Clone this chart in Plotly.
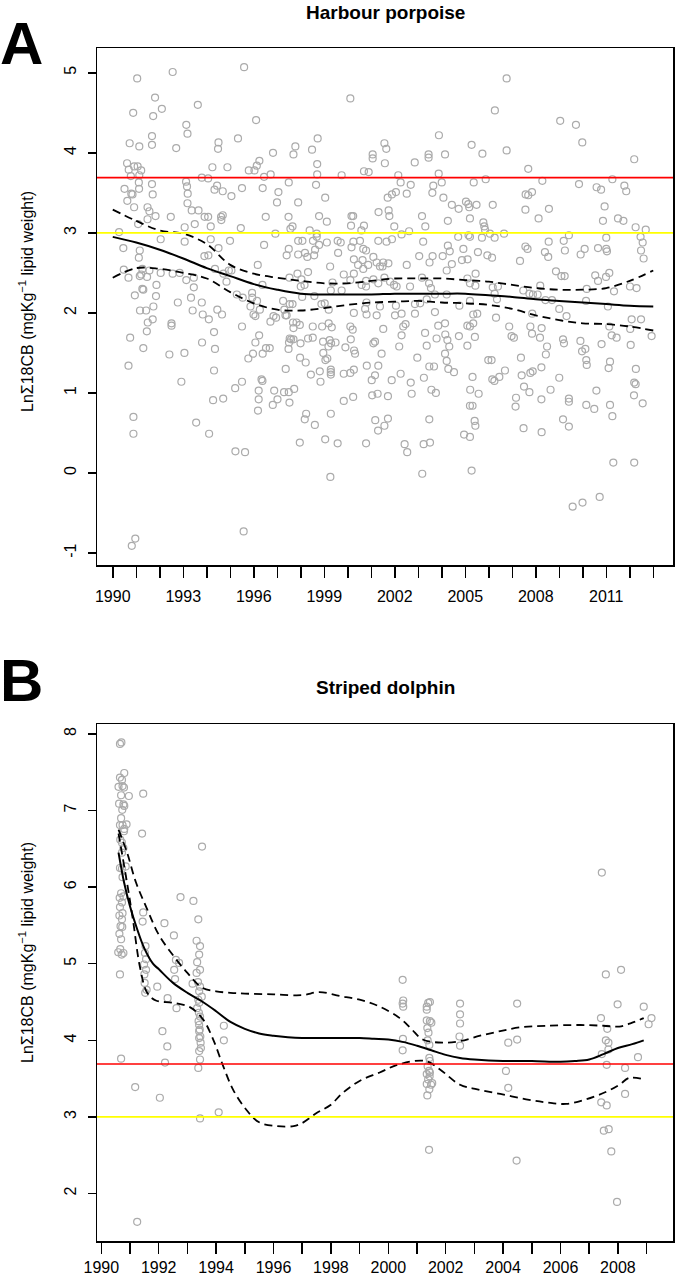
import plotly.graph_objects as go

W, H = 675, 1279
FONT = "Liberation Sans, Arial, sans-serif"

# ---------------- Panel A : Harbour porpoise ----------------
porpoise_points = [
    (1992.55,5.01),(1995.59,5.07),(1991.04,4.93),(1990.87,4.50),(1991.80,4.69),(1992.09,4.55),(1991.72,4.46),
    (1993.62,4.60),(1996.10,4.41),(1995.33,4.18),(1991.67,4.21),(1991.67,4.10),(1990.72,4.12),(1991.13,4.08),
    (1992.70,4.06),(1993.13,4.35),(1993.18,4.24),(1994.50,4.13),(1994.48,4.05),(1996.82,4.00),(1997.77,4.08),
    (1997.69,3.98),(1998.48,4.04),(1998.72,4.18),(2000.11,4.68),(1990.61,3.87),(1990.68,3.79),(1990.91,3.83),
    (1991.06,3.83),(1991.21,3.78),(1991.13,3.72),(1990.77,3.71),(1994.24,3.82),(1994.88,3.82),(1995.79,3.78),
    (1996.03,3.78),(1996.13,3.84),(1996.24,3.90),(1996.72,3.73),(1996.44,3.70),(1997.49,3.63),(1998.70,3.86),
    (1998.70,3.73),(1999.74,3.72),(1993.79,3.69),(1994.06,3.68),(1990.50,3.55),(1991.11,3.63),(1991.12,3.55),
    (1991.67,3.61),(1991.70,3.48),(1990.79,3.49),(1990.84,3.48),(1990.62,3.40),(1990.91,3.32),(1993.12,3.64),
    (1993.16,3.58),(1993.19,3.49),(1993.18,3.37),(1993.36,3.28),(1994.33,3.54),(1994.44,3.59),(1994.68,3.52),
    (1995.05,3.46),(1995.50,3.56),(1996.38,3.56),(1997.05,3.51),(1996.99,3.38),(1997.89,3.38),(1998.65,3.60),
    (1999.04,3.44),(1991.48,3.32),(1991.56,3.27),(1991.82,3.21),(1991.48,3.17),(1991.08,3.11),(1992.47,3.20),
    (1993.06,3.07),(1993.49,3.11),(1993.65,3.28),(1993.91,3.20),(1994.06,3.20),(1994.17,3.08),(1994.61,3.20),
    (1994.68,3.22),(1994.62,3.16),(1996.51,3.20),(1997.48,3.20),(1997.56,3.05),(1997.65,3.08),(1998.38,3.03),
    (1998.68,2.99),(1998.78,3.21),(1999.11,3.14),(2000.16,3.21),(2000.23,3.21),(2000.14,3.09),(1995.45,3.06),
    (1990.27,3.01),(1990.45,2.81),(1991.15,2.78),(1991.11,2.69),(1992.04,2.92),(1993.06,2.89),(1994.17,2.92),
    (1994.50,2.81),(1993.90,2.71),(1994.07,2.72),(1994.99,2.90),(1996.44,2.85),(1996.92,2.99),(1997.49,2.80),
    (1997.40,2.72),(1997.89,2.90),(1998.07,2.90),(1997.89,2.73),(1998.18,2.75),(1998.28,2.70),(1998.57,2.72),
    (1998.61,2.79),(1998.52,2.90),(1998.68,2.95),(1998.78,2.85),(1999.11,2.88),(1999.57,2.90),(1999.70,2.88),
    (1999.59,2.75),(2000.16,2.82),(2000.24,2.89),(2000.26,2.67),(2000.44,2.60),(1996.17,2.60),(1990.47,2.54),
    (1990.67,2.44),(1991.26,2.55),(1991.21,2.48),(1991.15,2.46),(1991.46,2.45),(1991.56,2.53),(1992.04,2.50),
    (1992.55,2.49),(1992.85,2.50),(1993.13,2.41),(1993.45,2.44),(1993.45,2.32),(1993.33,2.19),(1993.79,2.13),
    (1992.77,2.13),(1991.86,2.35),(1991.84,2.21),(1990.94,2.22),(1991.26,2.30),(1991.30,2.29),(1991.16,2.03),
    (1991.42,2.03),(1991.73,2.08),(1994.35,2.55),(1994.94,2.53),(1994.84,2.39),(1995.28,2.23),(1995.53,2.19),
    (1995.94,2.19),(1995.93,2.25),(1996.37,2.35),(1996.14,2.15),(1995.86,2.08),(1995.99,1.98),(1995.05,2.53),
    (1994.71,2.49),(1997.52,2.44),(1997.86,2.49),(1998.03,2.42),(1998.16,2.35),(1998.31,2.51),(1998.00,2.33),
    (1998.06,2.20),(1998.58,2.21),(1999.25,2.58),(1999.35,2.38),(1999.28,2.28),(1999.02,2.12),(1999.19,2.04),
    (1999.74,2.28),(1999.83,2.48),(2000.11,2.41),(2000.26,2.49),(2000.78,2.40),(1997.25,2.15),(1997.53,2.11),
    (1997.30,2.04),(1997.40,1.97),(2000.74,2.05),(2000.26,2.00),(1996.84,1.96),
    (1993.40,2.03),(1991.49,1.88),(1991.70,1.92),(1991.45,1.77),(1992.50,1.87),(1992.50,1.84),(1993.83,1.98),
    (1994.09,1.92),(1994.45,2.04),(1994.65,1.98),(1994.31,1.76),(1990.74,1.69),(1991.30,1.56),(1990.67,1.34),
    (1992.41,1.48),(1993.05,1.50),(1993.80,1.63),(1994.35,1.55),(1994.31,1.28),(1992.92,1.14),(1993.55,0.63),
    (1990.88,0.70),(1990.88,0.49),(1994.10,0.49),(1994.27,0.91),(1994.70,0.93),(1995.21,1.06),(1995.50,1.14),
    (1995.50,1.83),(1996.07,1.96),(1996.26,2.04),(1996.23,1.72),(1996.07,1.63),(1995.97,1.49),(1995.77,1.43),
    (1996.38,1.49),(1996.52,1.56),(1996.68,1.56),(1996.71,1.89),(1996.95,1.94),(1997.35,1.97),(1997.65,2.11),
    (1997.67,1.88),(1997.82,1.88),(1997.69,1.81),(1997.96,1.85),(1997.99,1.62),(1997.53,1.68),(1997.50,1.63),
    (1997.48,1.55),(1997.59,1.67),(1997.36,1.30),(1997.69,1.67),(1997.97,1.44),(1998.21,1.38),(1998.43,1.23),
    (1998.31,1.68),(1998.51,1.69),(1998.51,1.83),(1998.91,1.83),(1998.88,2.11),(1999.19,1.87),(1999.32,1.82),
    (1998.95,1.64),(1998.96,1.50),(1999.05,1.41),(1999.13,1.43),(1999.18,1.58),(1999.23,1.66),(1999.29,1.62),
    (1999.48,1.63),(1999.28,1.29),(1999.28,1.26),(1999.28,1.23),(1998.84,1.14),(1998.81,1.27),(1999.90,1.57),
    (2000.13,1.67),(2000.11,1.83),(2000.21,1.79),(2000.27,1.53),(2000.31,1.49),(2000.81,1.34),(2000.26,1.29),
    (1999.83,1.24),(2000.11,1.25),(2000.23,0.95),(1999.83,0.90),(1996.21,1.03),(1996.21,0.92),(1996.18,0.78),
    (1996.87,1.03),(1997.01,0.92),(1996.81,0.85),(1997.29,1.01),(1997.49,1.01),(1997.72,1.05),(1997.52,0.88),
    (1998.23,0.74),(1998.17,0.67),(1998.60,0.60),(1999.28,0.74),(1997.96,0.38),(1999.04,0.42),(1999.57,0.37),
    (2000.78,0.37),(1999.26,-0.05),(1995.57,-0.73),(1995.22,0.27),(1995.63,0.26),(1990.81,-0.91),(1990.96,-0.82),
    (1996.33,1.17),(1996.37,1.15),
    (2006.76,4.93),(2006.26,4.53),(2009.04,4.40),(2009.71,4.35),(2009.98,4.13),(2003.88,4.22),(2001.56,4.12),
    (2001.64,4.05),(2001.58,3.87),(2001.06,3.98),(2001.06,3.93),(2002.85,3.88),(2003.44,3.98),(2003.44,3.94),
    (2004.14,3.98),(2005.27,4.10),(2005.73,3.99),(2006.76,4.03),(2007.68,3.80),(2012.19,3.92),(2000.69,3.77),
    (2000.89,3.76),(2002.15,3.72),(2002.25,3.63),(2002.68,3.60),(2003.87,3.74),(2004.00,3.63),(2003.64,3.59),
    (2003.60,3.50),(2004.07,3.44),(2002.05,3.51),(2001.88,3.48),(2001.70,3.44),(2002.51,3.49),(2005.36,3.63),
    (2005.87,3.67),(2008.28,3.65),(2007.57,3.48),(2007.68,3.47),(2007.84,3.51),(2009.84,3.61),(2010.59,3.57),
    (2010.78,3.54),(2011.26,3.67),(2011.77,3.59),(2011.85,3.52),(2001.31,3.26),(2001.74,3.28),(2001.77,3.21),
    (2003.16,3.21),(2003.30,3.08),(2001.98,3.08),(2004.26,3.15),(2004.43,3.35),(2004.72,3.30),(2005.03,3.39),
    (2005.13,3.36),(2005.17,3.32),(2005.48,3.35),(2005.20,3.18),(2005.77,3.13),(2005.81,3.08),(2005.84,3.04),
    (2006.17,3.35),(2007.56,3.29),(2008.12,3.18),(2008.56,3.30),(2010.93,3.33),(2010.86,3.15),(2011.50,3.18),
    (2011.73,3.15),(2012.25,3.07),(2012.68,3.04),(2000.69,3.09),(2000.58,3.03),(2002.29,2.98),(2002.61,3.02),
    (2004.70,2.95),(2005.14,2.97),(2005.20,2.95),(2005.71,2.94),(2006.05,2.99),(2006.25,2.94),(2006.65,2.99),
    (2009.41,2.97),(2012.46,2.95),(2012.55,2.88),(2012.48,2.78),(2012.59,2.68),(2000.52,2.90),(2000.66,2.80),
    (2000.78,2.78),(2001.30,2.90),(2001.65,2.89),(2001.88,2.92),(2003.21,2.89),(2004.26,2.84),(2004.34,2.77),
    (2004.92,2.80),(2004.86,2.66),(2005.10,2.67),(2005.54,2.76),(2005.94,2.72),(2006.14,2.69),(2003.61,2.71),
    (2003.48,2.63),(2003.04,2.71),(2004.04,2.71),(2004.21,2.53),(2004.43,2.61),(2007.56,2.83),(2007.65,2.80),
    (2007.33,2.65),(2008.39,2.76),(2008.53,2.70),(2008.55,2.89),(2009.19,2.90),(2009.24,2.78),(2009.91,2.73),
    (2010.08,2.80),(2010.65,2.81),(2011.00,2.80),(2011.03,2.77),(2011.00,2.94),(2008.86,2.52),(2009.09,2.46),
    (2009.23,2.46),(2010.53,2.47),(2010.65,2.40),(2010.99,2.45),(2011.13,2.50),(2000.59,2.35),(2000.78,2.33),
    (2001.09,2.42),(2001.30,2.37),(2001.56,2.44),(2001.80,2.39),(2001.97,2.35),(2002.08,2.33),(2002.65,2.33),
    (2003.16,2.44),(2003.46,2.37),(2003.54,2.31),(2003.71,2.23),(2004.21,2.23),(2005.09,2.43),(2005.20,2.37),
    (2005.44,2.49),(2005.43,2.34),(2006.17,2.32),(2006.39,2.33),(2006.25,2.24),(2006.35,2.17),(2007.47,2.28),
    (2007.73,2.24),(2007.88,2.23),(2008.08,2.23),(2008.19,2.34),(2008.41,2.16),(2008.69,2.16),(2009.00,2.05),
    (2010.14,2.15),(2010.17,2.30),(2011.07,2.08),(2011.33,2.27),(2012.01,2.33),(2012.29,2.31),(2000.80,1.98),
    (2001.23,1.97),(2002.01,1.97),(2002.29,1.99),(2002.86,1.99),(2003.71,2.01),(2005.34,1.98),(2005.51,1.99),
    (2006.31,1.94),(2007.85,1.99),(2009.31,1.96),(2012.08,1.92),(2012.48,1.92),(2000.80,2.13),(2001.37,2.08),
    (2002.05,2.09),(2002.86,2.11),(2003.08,2.12),(2004.75,2.09),(2005.20,2.15),(2003.36,2.17),(2001.37,2.58),
    (2001.48,2.58),(2001.51,2.63),(2001.23,2.63),(2000.66,2.55),(2000.87,2.60),(2001.73,2.62),(2002.51,2.60),
    (2000.63,2.66),(2001.09,2.70),
    (2001.16,1.64),(2001.09,1.62),(2001.51,1.80),(2002.29,1.72),(2002.19,1.58),(2002.46,1.86),(2002.36,1.83),
    (2003.29,1.75),(2003.36,1.59),(2003.78,1.68),(2003.85,1.84),(2004.14,1.87),(2004.15,1.73),(2004.24,1.66),
    (2004.32,1.58),(2004.14,1.49),(2004.21,1.40),(2004.28,1.30),(2004.52,1.26),(2004.73,1.71),(2005.09,1.59),
    (2005.09,1.84),(2005.20,1.83),(2005.34,1.87),(2005.41,1.70),(2006.87,1.83),(2006.97,1.71),(2007.07,1.69),
    (2007.37,1.44),(2008.25,1.81),(2008.18,1.69),(2007.84,1.74),(2007.77,1.83),(2008.48,1.58),(2008.43,1.48),
    (2009.16,1.67),(2009.20,1.62),(2009.90,1.65),(2010.11,1.55),(2009.97,1.52),(2010.15,1.41),(2010.17,1.35),
    (2011.13,1.83),(2011.23,1.72),(2011.44,1.69),(2010.80,1.61),(2012.04,1.60),(2012.02,1.80),(2012.93,1.71),
    (2001.30,1.34),(2001.44,1.49),(2001.16,1.22),(2001.02,1.16),(2001.04,0.97),(2001.27,0.99),(2001.71,0.96),
    (2001.87,1.16),(2002.25,1.24),(2002.68,1.13),(2002.72,0.99),(2002.96,1.44),(2003.24,1.19),(2003.47,1.33),
    (2003.67,1.33),(2003.56,1.04),(2003.75,1.00),(2005.31,1.20),(2005.21,1.04),(2005.57,0.99),(2005.20,0.84),
    (2005.31,0.84),(2005.98,1.41),(2006.12,1.41),(2006.15,1.17),(2006.24,1.15),(2006.45,1.20),(2006.69,1.28),
    (2007.40,1.22),(2007.50,1.08),(2007.73,1.01),(2007.77,1.25),(2007.87,1.27),(2008.24,1.32),(2008.24,0.92),
    (2008.63,1.04),(2009.00,1.19),(2007.16,0.94),(2007.14,0.83),(2009.41,0.93),(2009.41,0.89),(2010.58,1.03),
    (2011.16,1.39),(2011.10,1.31),(2012.26,1.30),(2012.25,1.11),(2012.19,1.13),(2012.18,0.97),(2012.55,0.87),
    (2010.15,0.85),(2010.49,0.80),(2011.16,0.85),(2011.26,0.71),(2001.17,0.66),(2001.29,0.53),(2001.56,0.59),
    (2001.71,0.68),(2003.47,0.67),(2005.40,0.65),(2005.43,0.59),(2004.95,0.48),(2005.20,0.45),(2007.48,0.56),
    (2008.25,0.51),(2009.16,0.67),(2009.41,0.58),(2002.42,0.36),(2002.53,0.26),(2003.23,0.36),(2003.50,0.38),
    (2003.17,-0.01),(2005.27,0.03),(2011.30,0.13),(2012.19,0.13),(2009.57,-0.42),(2009.99,-0.37),(2010.72,-0.30),
]

porpoise_fit_year = [1990, 1991, 1992, 1993, 1994, 1995, 1996, 1997, 1998, 1999, 2000, 2001,
                     2002, 2003, 2004, 2005, 2006, 2007, 2008, 2009, 2010, 2011, 2012, 2013]
porpoise_fit = [2.95, 2.88, 2.79, 2.68, 2.56, 2.46, 2.36, 2.29, 2.24, 2.23, 2.23, 2.23,
                2.24, 2.24, 2.24, 2.24, 2.22, 2.20, 2.17, 2.15, 2.13, 2.11, 2.09, 2.08]
porpoise_upper = [3.29, 3.15, 3.03, 2.99, 2.86, 2.60, 2.49, 2.44, 2.40, 2.37, 2.37, 2.40,
                  2.43, 2.43, 2.43, 2.41, 2.39, 2.35, 2.31, 2.29, 2.29, 2.31, 2.40, 2.53]
porpoise_lower = [2.44, 2.56, 2.55, 2.50, 2.43, 2.26, 2.12, 2.04, 2.03, 2.06, 2.10, 2.13,
                  2.14, 2.15, 2.13, 2.12, 2.10, 2.05, 1.97, 1.91, 1.87, 1.86, 1.83, 1.78]

# ---------------- Panel B : Striped dolphin ----------------
dolphin_points = [
    (1990.65,7.87),(1990.70,7.89),(1990.80,7.49),(1990.65,7.43),(1990.72,7.40),(1990.60,7.31),(1990.74,7.32),
    (1990.79,7.30),(1990.69,7.20),(1990.96,7.19),(1990.62,7.09),(1990.77,7.08),(1990.80,7.06),(1990.73,7.01),
    (1990.69,6.90),(1990.65,6.81),(1990.74,6.81),(1990.88,6.82),(1990.80,6.76),(1990.79,6.73),(1990.66,6.62),
    (1990.72,6.58),(1990.77,6.51),(1990.72,6.45),(1990.65,6.25),(1990.72,6.24),(1990.85,6.27),(1990.74,6.13),
    (1990.69,5.92),(1990.77,5.88),(1990.64,5.86),(1990.72,5.80),(1990.65,5.74),(1990.63,5.63),(1990.74,5.66),
    (1990.72,5.58),(1990.67,5.49),(1990.73,5.48),(1990.63,5.39),(1990.69,5.32),(1990.66,5.19),(1990.77,5.14),
    (1990.59,5.15),(1990.71,5.12),(1990.65,4.86),(1991.46,7.22),(1991.42,6.70),(1993.51,6.53),(1992.76,5.87),
    (1993.21,5.82),(1993.38,5.58),(1993.32,5.30),(1993.44,5.23),(1993.41,5.12),(1993.34,5.02),(1993.44,4.92),
    (1993.32,4.88),(1992.20,5.53),(1992.53,5.37),(1992.60,5.05),(1992.71,5.01),(1991.46,5.67),(1991.44,5.55),
    (1991.54,5.23),(1991.52,5.14),(1991.56,5.06),(1991.49,4.99),(1991.56,4.92),(1991.50,4.86),
    (1990.69,3.76),(1991.18,3.39),(1991.25,1.63),(1992.04,3.25),(1992.13,4.12),(1992.30,3.92),(1992.22,3.71),
    (1991.95,4.70),(1992.31,4.55),(1992.62,4.42),(1992.54,4.92),(1992.57,4.80),(1993.44,2.98),(1994.09,3.06),
    (1994.27,4.19),(1994.27,4.00),(1991.51,4.75),(1991.58,4.66),(1991.53,4.62),(1993.18,4.74),(1993.37,4.76),
    (1993.44,4.70),(1993.41,4.64),(1993.50,4.57),(1993.38,4.53),(1993.41,4.49),(1993.34,4.42),(1993.40,4.36),
    (1993.44,4.31),(1993.39,4.25),(1993.41,4.20),(1993.43,4.14),(1993.41,4.12),(1993.45,4.05),(1993.41,4.03),
    (1993.46,3.97),(1993.41,3.86),(1993.47,3.90),(1993.44,3.75),(1993.38,3.64),
    (2007.44,6.19),
    (2000.50,4.79),(2000.52,4.52),(2000.50,4.48),(2000.52,4.44),(2000.51,4.02),(2000.50,3.87),(2001.34,4.44),
    (2001.39,4.49),(2001.45,4.50),(2001.34,4.40),(2001.34,4.26),(2001.45,4.25),(2001.50,4.23),(2001.36,4.16),
    (2001.40,4.10),(2001.37,4.00),(2001.43,3.94),(2001.43,3.77),(2001.45,3.73),(2001.37,3.66),(2001.42,3.60),
    (2001.34,3.56),(2001.45,3.58),(2001.44,3.53),(2001.39,3.49),(2001.53,3.44),(2001.49,3.42),(2001.34,3.43),
    (2001.43,3.36),(2001.36,3.28),(2001.42,2.57),(2002.50,4.48),(2002.50,4.34),(2002.50,4.22),(2002.48,4.05),
    (2002.50,3.93),(2004.49,4.48),(2004.49,4.01),(2004.18,3.97),(2004.10,3.60),(2004.18,3.38),(2004.47,2.43),
    (2007.58,4.86),(2008.11,4.92),(2007.99,4.47),(2007.41,4.29),(2007.63,4.15),(2007.58,4.00),(2007.67,3.97),
    (2007.67,3.88),(2007.44,3.82),(2007.61,3.68),(2008.25,3.64),(2008.25,3.30),(2008.70,3.78),(2008.90,4.44),
    (2009.17,4.29),(2009.07,4.21),(2007.42,3.19),(2007.61,3.15),(2007.51,2.82),(2007.68,2.84),(2007.77,2.55),
    (2007.97,1.89),
]

dolphin_fit_year = [1990.6, 1990.8, 1991.0, 1991.25, 1991.5, 1991.8, 1992.0, 1992.5, 1993.0, 1993.5, 1994.0,
                    1994.5, 1995.0, 1995.5, 1996.0, 1996.5, 1997.0, 1998.0, 1999.0, 1999.5, 2000.0, 2000.5,
                    2001.0, 2001.5, 2002.0, 2002.5, 2003.0, 2004.0, 2005.0, 2006.0, 2006.5, 2007.0, 2007.5,
                    2008.0, 2008.5, 2008.9]
dolphin_fit = [6.45, 6.05, 5.75, 5.45, 5.20, 5.00, 4.93, 4.75, 4.62, 4.51, 4.38,
               4.24, 4.15, 4.09, 4.06, 4.04, 4.03, 4.03, 4.03, 4.02, 4.01, 3.98,
               3.93, 3.87, 3.81, 3.77, 3.75, 3.73, 3.73, 3.72, 3.73, 3.75, 3.82,
               3.90, 3.95, 4.00]

dolphin_upper_year = [1990.6, 1990.9, 1991.2, 1991.6, 1992.0, 1992.5, 1993.0, 1993.5, 1994.0, 1994.5, 1995.0,
                      1996.0, 1997.0, 1997.6, 1998.3, 1999.0, 1999.7, 2000.4, 2000.8, 2001.2, 2001.9, 2002.5,
                      2003.2, 2003.9, 2004.6, 2005.5, 2006.7, 2007.5, 2008.05, 2008.5, 2008.9]
dolphin_upper = [6.75, 6.45, 6.07, 5.71, 5.38, 5.11, 4.88, 4.69, 4.64, 4.62, 4.61,
                 4.60, 4.59, 4.63, 4.58, 4.53, 4.44, 4.29, 4.15, 4.01, 3.97, 3.99,
                 4.06, 4.12, 4.17, 4.19, 4.20, 4.19, 4.18, 4.23, 4.29]

dolphin_lower_year = [1990.6, 1990.9, 1991.1, 1991.35, 1991.6, 1991.9, 1992.5, 1993.1, 1993.55, 1993.9, 1994.25,
                      1994.6, 1995.06, 1995.5, 1996.1, 1996.7, 1997.0, 1997.5, 1998.0, 1998.4, 1999.0, 1999.7,
                      2000.4, 2001.3, 2001.8, 2002.5, 2003.1, 2003.9, 2004.8, 2005.5, 2006.2, 2006.9, 2007.6,
                      2008.05, 2008.4, 2008.9]
dolphin_lower = [6.70, 6.05, 5.58, 4.95, 4.62, 4.52, 4.49, 4.43, 4.27, 4.01, 3.66,
                 3.35, 3.09, 2.93, 2.88, 2.88, 2.92, 3.05, 3.16, 3.31, 3.47, 3.58,
                 3.69, 3.73, 3.62, 3.42, 3.36, 3.30, 3.23, 3.19, 3.17, 3.23, 3.33,
                 3.42, 3.51, 3.49]

threshold_red = 3.69     # ln(40)
threshold_yellow = 3.00  # ln(20)

porpoise_years = list(range(1990, 2014))
porpoise_label_years = list(range(1990, 2014, 3))
dolphin_years = list(range(1990, 2010))
dolphin_label_years = list(range(1990, 2010, 2))

# ---------------- geometry (pixels) ----------------
def px(x):
    return x / W

def py(y):
    return 1 - y / H

fig = go.Figure()

GRAY = "#ababab"
mk = dict(symbol="circle-open", size=7, color=GRAY, line=dict(width=1.2, color=GRAY))
dash = "8px,5px"

fig.add_trace(go.Scatter(x=[p[0] for p in porpoise_points], y=[p[1] for p in porpoise_points],
                         mode="markers", marker=mk, xaxis="x", yaxis="y", showlegend=False))
fig.add_trace(go.Scatter(x=porpoise_fit_year, y=porpoise_fit, mode="lines",
                         line=dict(color="black", width=2, shape="spline"),
                         xaxis="x", yaxis="y", showlegend=False))
for arr in (porpoise_upper, porpoise_lower):
    fig.add_trace(go.Scatter(x=porpoise_fit_year, y=arr, mode="lines",
                             line=dict(color="black", width=1.8, dash=dash, shape="spline"),
                             xaxis="x", yaxis="y", showlegend=False))

fig.add_trace(go.Scatter(x=[p[0] for p in dolphin_points], y=[p[1] for p in dolphin_points],
                         mode="markers", marker=mk, xaxis="x2", yaxis="y2", showlegend=False))
fig.add_trace(go.Scatter(x=dolphin_fit_year, y=dolphin_fit, mode="lines",
                         line=dict(color="black", width=2, shape="spline"),
                         xaxis="x2", yaxis="y2", showlegend=False))
fig.add_trace(go.Scatter(x=dolphin_upper_year, y=dolphin_upper, mode="lines",
                         line=dict(color="black", width=1.8, dash=dash, shape="spline"),
                         xaxis="x2", yaxis="y2", showlegend=False))
fig.add_trace(go.Scatter(x=dolphin_lower_year, y=dolphin_lower, mode="lines",
                         line=dict(color="black", width=1.8, dash=dash, shape="spline"),
                         xaxis="x2", yaxis="y2", showlegend=False))

shapes = []
for xr, yr in (("x", "y"), ("x2", "y2")):
    shapes.append(dict(type="line", xref=xr + " domain", yref=yr, x0=0, x1=1, y0=threshold_red, y1=threshold_red,
                       line=dict(color="#ff0000", width=1.6)))
    shapes.append(dict(type="line", xref=xr + " domain", yref=yr, x0=0, x1=1, y0=threshold_yellow, y1=threshold_yellow,
                       line=dict(color="#ffff00", width=1.6)))

xdom = [px(97), px(673)]
common_x = dict(showgrid=False, zeroline=False, showline=True, mirror=True, linecolor="black", linewidth=1.5,
                ticks="outside", ticklen=11, tickwidth=1.5, tickcolor="black", automargin=False,
                tickfont=dict(family=FONT, size=16, color="black"))
common_y = dict(showgrid=False, zeroline=False, showline=True, mirror=True, linecolor="black", linewidth=1.5,
                ticks="outside", ticklen=8, tickwidth=1.5, tickcolor="black", tickangle=-90, automargin=False,
                tickfont=dict(family=FONT, size=16, color="black"), ticklabelstandoff=5)

def minor_ticks(vals):
    return dict(tickmode="array", tickvals=vals, ticks="outside", ticklen=11, tickwidth=1.5,
                tickcolor="black", showgrid=False)

fig.update_layout(
    template="none",
    width=W, height=H, margin=dict(l=0, r=0, t=0, b=0, pad=0),
    paper_bgcolor="white", plot_bgcolor="white", showlegend=False,
    xaxis=dict(domain=xdom, anchor="y", range=[1989.33, 2013.84], tickmode="array",
               tickvals=porpoise_label_years, ticktext=[str(v) for v in porpoise_label_years],
               minor=minor_ticks(porpoise_years), ticklabelstandoff=5, **common_x),
    yaxis=dict(domain=[py(565), py(48)], anchor="x", range=[-1.15, 5.31], tickmode="array",
               tickvals=[-1, 0, 1, 2, 3, 4, 5], ticktext=["-1", "0", "1", "2", "3", "4", "5"], **common_y),
    xaxis2=dict(domain=xdom, anchor="y2", range=[1989.85, 2009.92], tickmode="array",
                tickvals=dolphin_label_years, ticktext=[str(v) for v in dolphin_label_years],
                minor=minor_ticks(dolphin_years), ticklabelstandoff=0, **common_x),
    yaxis2=dict(domain=[py(1241), py(724)], anchor="x2", range=[1.38, 8.13], tickmode="array",
                tickvals=[2, 3, 4, 5, 6, 7, 8], ticktext=["2", "3", "4", "5", "6", "7", "8"], **common_y),
    shapes=shapes,
)

ylab = "LnΣ18CB (mgKg<sup>−1</sup> lipid weight)"
ann = [
    dict(text="<b>Harbour porpoise</b>", x=px(385), y=py(12), font=dict(size=19)),
    dict(text="<b>Striped dolphin</b>", x=px(385), y=py(687), font=dict(size=19)),
    dict(text="<b>A</b>", x=px(21), y=py(44), font=dict(size=60)),
    dict(text="<b>B</b>", x=px(22), y=py(680), font=dict(size=60)),
    dict(text=ylab, x=px(26), y=py(302), textangle=-90, font=dict(size=16)),
    dict(text=ylab, x=px(26), y=py(953), textangle=-90, font=dict(size=16)),
]
for a in ann:
    a.update(xref="paper", yref="paper", showarrow=False, xanchor="center", yanchor="middle")
    a["font"].update(family=FONT, color="black")
fig.update_layout(annotations=ann)

fig.write_html("out.html", config={"displayModeBar": False, "staticPlot": True},
               post_script="document.body.style.margin='0';document.body.style.overflow='hidden';")
